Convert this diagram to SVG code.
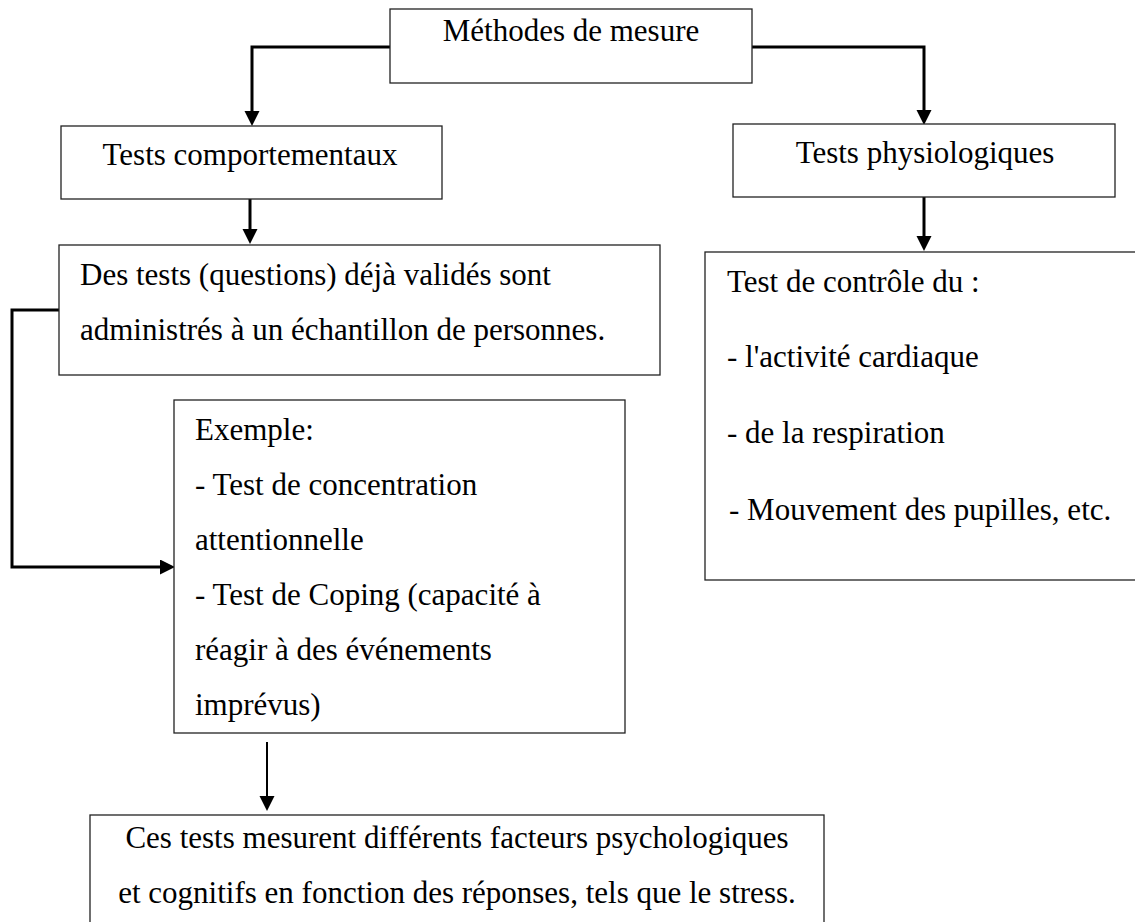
<svg xmlns="http://www.w3.org/2000/svg" width="1135" height="922" viewBox="0 0 1135 922">
<style>
.box{fill:#fff;stroke:#222;stroke-width:1.3}
.t{font-family:"Liberation Serif","Times New Roman",serif;font-size:31px;fill:#000}
.c{text-anchor:middle}
.conn{fill:none;stroke:#000;stroke-width:3}
.thin{fill:none;stroke:#000;stroke-width:2}
</style>
<defs>
<marker id="ah" markerUnits="userSpaceOnUse" markerWidth="16" markerHeight="16" refX="0" refY="7.5" orient="auto">
<path d="M0,0 L15,7.5 L0,15 z" fill="#000"/>
</marker>
</defs>
<rect width="1135" height="922" fill="#fff"/>
<g id="connectors">
<path class="conn" d="M390,47 H252 V111" marker-end="url(#ah)"/>
<path class="conn" d="M752,47 H924 V110" marker-end="url(#ah)"/>
<path class="conn" d="M250,199 V229" marker-end="url(#ah)"/>
<path class="conn" d="M924,197 V236" marker-end="url(#ah)"/>
<path class="conn" d="M59,310 H12 V567 H160" marker-end="url(#ah)"/>
<path class="thin" d="M267,742 V796" marker-end="url(#ah)"/>
</g>
<g id="methodes">
<rect class="box" x="390" y="9" width="362" height="74"/>
<text class="t c" x="571" y="41">Méthodes de mesure</text>
</g>
<g id="comportementaux">
<rect class="box" x="61" y="126" width="381" height="73"/>
<text class="t c" x="250" y="165">Tests comportementaux</text>
</g>
<g id="physiologiques">
<rect class="box" x="733" y="124" width="382" height="73"/>
<text class="t c" x="925" y="163">Tests physiologiques</text>
</g>
<g id="destests">
<rect class="box" x="59" y="245" width="601" height="130"/>
<text class="t" x="80" y="285">Des tests (questions) déjà validés sont</text>
<text class="t" x="80" y="340">administrés à un échantillon de personnes.</text>
</g>
<g id="controle">
<rect class="box" x="705" y="252" width="440" height="328"/>
<text class="t" x="727" y="292">Test de contrôle du :</text>
<text class="t" x="727" y="367">- l'activité cardiaque</text>
<text class="t" x="727" y="443">- de la respiration</text>
<text class="t" x="729" y="520">- Mouvement des pupilles, etc.</text>
</g>
<g id="exemple">
<rect class="box" x="174" y="400" width="451" height="333"/>
<text class="t" x="195" y="440">Exemple:</text>
<text class="t" x="195" y="495">- Test de concentration</text>
<text class="t" x="195" y="550">attentionnelle</text>
<text class="t" x="195" y="605">- Test de Coping (capacité à</text>
<text class="t" x="195" y="660">réagir à des événements</text>
<text class="t" x="195" y="715">imprévus)</text>
</g>
<g id="conclusion">
<rect class="box" x="90" y="815" width="734" height="130"/>
<text class="t c" x="457" y="848">Ces tests mesurent différents facteurs psychologiques</text>
<text class="t c" x="457" y="903">et cognitifs en fonction des réponses, tels que le stress.</text>
</g>
</svg>
